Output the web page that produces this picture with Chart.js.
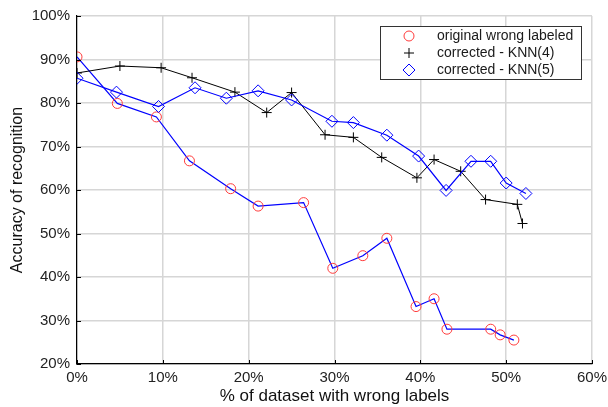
<!DOCTYPE html>
<html>
<head>
<meta charset="utf-8">
<script src="https://cdn.jsdelivr.net/npm/chart.js@4/dist/chart.umd.min.js"></script>
<style>
  html, body { margin: 0; padding: 0; background: #fff; }
  #wrap { width: 608px; height: 407px; }
</style>
</head>
<body>
<div id="wrap"><canvas id="c" width="608" height="407"></canvas></div>
<script>
// % of dataset with wrong labels / accuracy of recognition (%)
const origX = [0, 4.7, 9.25, 13.1, 17.9, 21.1, 26.4, 29.8, 33.3, 36.1, 39.5, 41.6, 43.1, 48.2, 49.3, 50.9];
const origY = [90.6, 79.9, 76.8, 66.7, 60.3, 56.3, 57.1, 42.0, 44.9, 48.9, 33.2, 35.0, 28.0, 28.0, 26.7, 25.5];

const knn4X = [0, 5.0, 9.8, 13.4, 18.4, 22.1, 25.0, 28.9, 32.2, 35.5, 39.6, 41.6, 44.7, 47.6, 51.3, 51.9];
const knn4Y = [86.9, 88.5, 88.1, 85.8, 82.5, 77.8, 82.4, 72.7, 72.1, 67.5, 62.8, 67.0, 64.3, 57.8, 56.7, 52.3];

const knn5X = [0, 4.6, 9.5, 13.75, 17.4, 21.1, 25.0, 29.7, 32.2, 36.1, 39.8, 43.0, 45.9, 48.2, 50.0, 52.3];
const knn5Y = [85.7, 82.5, 79.2, 83.5, 81.1, 82.8, 80.7, 75.8, 75.5, 72.6, 67.8, 59.9, 66.6, 66.6, 61.6, 59.2];

const seriesLabels = ['original wrong labeled', 'corrected - KNN(4)', 'corrected - KNN(5)'];
const xTicks = [0, 10, 20, 30, 40, 50, 60];
const yTicks = [20, 30, 40, 50, 60, 70, 80, 90, 100];

const pts = (xs, ys) => xs.map((x, i) => ({ x: x, y: ys[i] }));
const FONT = 'Liberation Sans, Arial, Helvetica, sans-serif';

// Short inward tick marks on the left and bottom axes
const innerTicks = {
  id: 'innerTicks',
  afterDatasetsDraw(chart) {
    const { ctx, chartArea: a, scales: { x, y } } = chart;
    ctx.save();
    ctx.strokeStyle = '#000';
    ctx.lineWidth = 1;
    ctx.beginPath();
    xTicks.forEach(v => {
      const px = Math.round(x.getPixelForValue(v)) + 0.5;
      ctx.moveTo(px, a.bottom); ctx.lineTo(px, a.bottom - 4);
    });
    yTicks.forEach(v => {
      const py = Math.round(y.getPixelForValue(v)) + 0.5;
      ctx.moveTo(a.left, py); ctx.lineTo(a.left + 4, py);
    });
    ctx.stroke();
    ctx.restore();
  }
};

// Boxed legend in the upper right corner of the plot
const boxLegend = {
  id: 'boxLegend',
  afterDraw(chart) {
    const { ctx, chartArea: a } = chart;
    const left = a.right - 212, top = a.top + 10, w = 201, h = 53;
    ctx.save();
    ctx.fillStyle = '#fff';
    ctx.fillRect(left, top, w, h);
    ctx.strokeStyle = '#333';
    ctx.lineWidth = 1;
    ctx.strokeRect(left + 0.5, top + 0.5, w, h);
    chart.data.datasets.forEach((ds, i) => {
      const cy = top + 10 + i * 17;
      ctx.strokeStyle = ds.pointBorderColor;
      ctx.fillStyle = 'rgba(0,0,0,0)';
      ctx.lineWidth = ds.pointBorderWidth;
      Chart.helpers.drawPoint(ctx, {
        pointStyle: ds.pointStyle,
        radius: ds.pointRadius,
        borderWidth: ds.pointBorderWidth
      }, left + 29, cy);
      ctx.font = '14px ' + FONT;
      ctx.textBaseline = 'middle';
      ctx.textAlign = 'left';
      ctx.fillStyle = '#1a1a1a';
      ctx.fillText(ds.label, left + 57, cy);
    });
    ctx.restore();
  }
};

new Chart(document.getElementById('c'), {
  type: 'scatter',
  data: {
    datasets: [
      {
        label: seriesLabels[0],
        data: pts(origX, origY),
        showLine: true,
        borderColor: '#0000ff',
        borderWidth: 1.2,
        pointStyle: 'circle',
        pointRadius: 5,
        pointBorderColor: '#ff3b3b',
        pointBackgroundColor: 'rgba(0,0,0,0)',
        pointBorderWidth: 1,
        order: 3
      },
      {
        label: seriesLabels[1],
        data: pts(knn4X, knn4Y),
        showLine: true,
        borderColor: '#000000',
        borderWidth: 1,
        pointStyle: 'cross',
        pointRadius: 5,
        pointBorderColor: '#000000',
        pointBackgroundColor: 'rgba(0,0,0,0)',
        pointBorderWidth: 1,
        order: 2
      },
      {
        label: seriesLabels[2],
        data: pts(knn5X, knn5Y),
        showLine: true,
        borderColor: '#0000ff',
        borderWidth: 1.2,
        pointStyle: 'rectRot',
        pointRadius: 6,
        pointBorderColor: '#0000ff',
        pointBackgroundColor: 'rgba(0,0,0,0)',
        pointBorderWidth: 1,
        order: 1
      }
    ]
  },
  options: {
    responsive: false,
    animation: false,
    layout: { padding: { left: 0, top: 15, right: 16, bottom: 0 } },
    plugins: {
      legend: { display: false },
      tooltip: { enabled: false }
    },
    scales: {
      x: {
        type: 'linear',
        min: 0, max: 60,
        afterBuildTicks(s) { s.ticks = xTicks.map(v => ({ value: v })); },
        afterFit(s) { s.height = 43; s.paddingRight = 16; },
        grid: { color: '#d6d6d6', lineWidth: 1.5, drawTicks: false },
        border: { color: '#000', width: 1.2 },
        ticks: {
          padding: 5,
          color: '#222',
          font: { family: FONT, size: 15 },
          callback: v => v + '%'
        },
        title: {
          display: true,
          text: '% of dataset with wrong labels',
          color: '#111',
          font: { family: FONT, size: 17 },
          padding: { top: 1, bottom: 0 }
        }
      },
      y: {
        type: 'linear',
        min: 20, max: 100,
        afterBuildTicks(s) { s.ticks = yTicks.map(v => ({ value: v })); },
        afterFit(s) { s.width = 77; },
        grid: { color: '#d6d6d6', lineWidth: 1.5, drawTicks: false },
        border: { color: '#000', width: 1.2 },
        ticks: {
          padding: 7,
          color: '#222',
          font: { family: FONT, size: 15 },
          callback: v => v + '%'
        },
        title: {
          display: true,
          text: 'Accuracy of recognition',
          color: '#111',
          font: { family: FONT, size: 16 },
          padding: { top: 8, bottom: 0 }
        }
      }
    }
  },
  plugins: [innerTicks, boxLegend]
});
</script>
</body>
</html>
